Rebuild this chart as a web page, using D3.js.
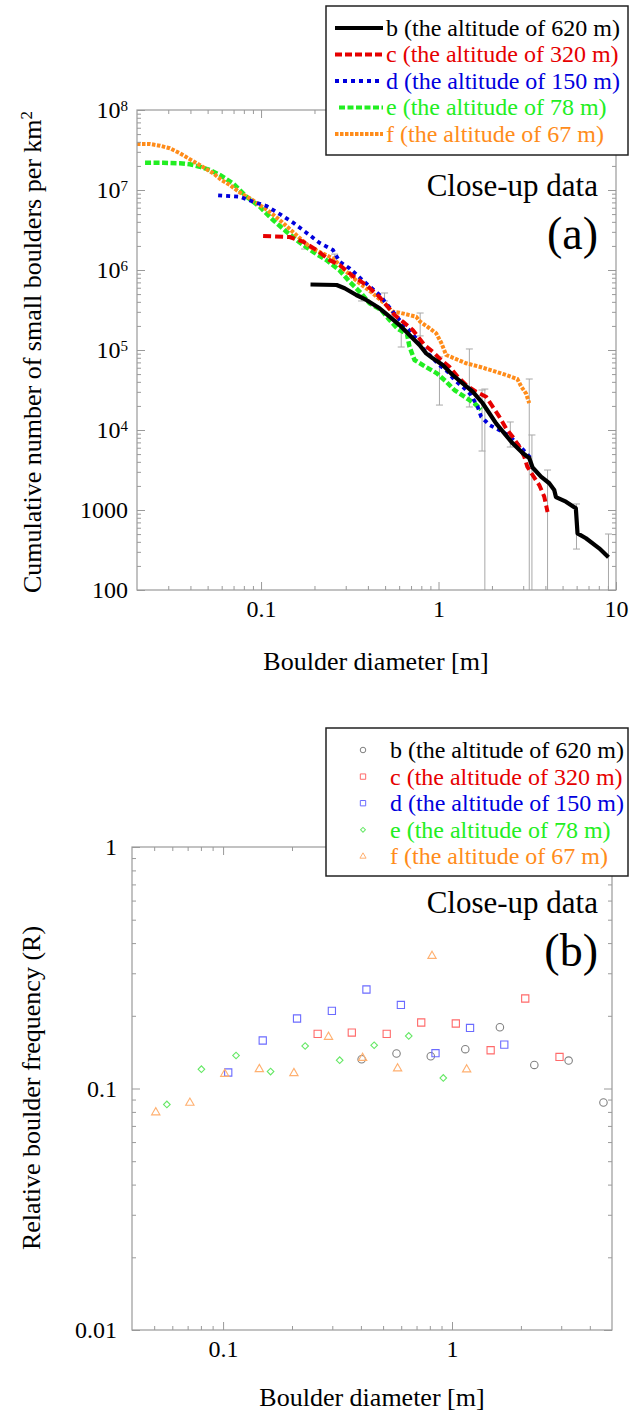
<!DOCTYPE html>
<html><head><meta charset="utf-8">
<script src="https://cdn.jsdelivr.net/npm/d3@7"></script>
<style>
body{margin:0;background:#fff}
svg text, svg tspan{font-family:"Liberation Serif","Tinos","Times New Roman","DejaVu Serif","Noto Serif",serif !important}
</style>
</head><body>
<svg id="chart" width="641" height="1413"></svg>
<script>
// ---------- DATA ----------
const seriesLabels = ["b (the altitude of 620 m)","c (the altitude of 320 m)","d (the altitude of 150 m)","e (the altitude of 78 m)","f (the altitude of 67 m)"];
const seriesColors = ["#000000","#e60000","#0000dd","#22ee22","#ff8c1a"];

// Panel (a): cumulative number per km^2 vs diameter [m]
const cumB = [[0.190,6.59e5],[0.2667,6.49e5],[0.2958,5.91e5],[0.344,4.87e5],[0.3917,4.22e5],[0.4653,3.32e5],[0.53,2.61e5],[0.603,2.05e5],[0.686,1.54e5],[0.781,1.155e5],[0.852,9.09e4],[0.928,7.87e4],[1.056,6.49e4],[1.202,4.87e4],[1.368,3.83e4],[1.557,3.01e4],[1.773,2.16e4],[1.934,1.62e4],[2.11,1.21e4],[2.349,9090],[2.615,6820],[2.977,5160],[3.245,4470],[3.388,3400],[3.778,2610],[4.206,2160],[4.487,1780],[4.587,1450],[5.22,1270],[5.94,1050],[6.07,511],[6.77,443],[8.04,332],[9.07,256]];
const cumC = [[0.1027,2.66e6],[0.145,2.585e6],[0.1723,2.26e6],[0.205,1.78e6],[0.2434,1.33e6],[0.2772,1.155e6],[0.3293,8.41e5],[0.3917,6.49e5],[0.4653,4.6e5],[0.565,2.74e5],[0.629,2.26e5],[0.716,1.78e5],[0.8334,1.155e5],[0.928,9.52e4],[1.034,7.5e4],[1.152,6.18e4],[1.283,4.64e4],[1.43,3.65e4],[1.627,3.01e4],[1.853,2.61e4],[2.018,1.955e4],[2.2,1.467e4],[2.401,1.05e4],[2.615,8250],[2.852,6180],[3.043,4640],[3.163,3480],[3.388,2740],[3.695,2050],[3.942,1470],[4.115,944]];
const cumD = [[0.0573,8.59e6],[0.0759,8.25e6],[0.0902,7.14e6],[0.1073,6.31e6],[0.1274,5.01e6],[0.1514,3.92e6],[0.18,2.93e6],[0.2139,2.18e6],[0.2541,1.78e6],[0.2772,1.27e6],[0.3155,1.05e6],[0.3831,7.08e5],[0.4653,4.87e5],[0.5075,3.83e5],[0.603,2.37e5],[0.671,1.87e5],[0.748,1.4e5],[0.815,1.05e5],[0.909,8.25e4],[1.012,6.49e4],[1.127,5.35e4],[1.229,4.22e4],[1.399,3.32e4],[1.525,2.74e4],[1.662,1.955e4],[1.737,1.467e4],[1.934,1.155e4],[2.2,1.0e4],[2.506,8410],[2.889,6180],[3.318,4430]];
const cumE = [[0.0222,2.19e7],[0.0281,2.19e7],[0.0349,2.16e7],[0.0397,2.1e7],[0.0452,1.955e7],[0.0515,1.78e7],[0.0586,1.54e7],[0.0696,1.21e7],[0.0828,8.25e6],[0.0984,6.18e6],[0.1168,4.22e6],[0.139,3.01e6],[0.1651,2.21e6],[0.1962,1.69e6],[0.2333,1.33e6],[0.2772,9.86e5],[0.3155,7.14e5],[0.367,5.11e5],[0.4089,3.83e5],[0.4757,3.16e5],[0.53,2.37e5],[0.5897,1.83e5],[0.6644,1.585e5],[0.686,1.1e5],[0.7322,7.5e4],[0.8441,6.18e4],[0.9797,5.11e4],[1.104,4.02e4],[1.229,3.16e4],[1.399,2.61e4],[1.592,2.16e4],[1.737,1.8e4]];
const cumF = [[0.02,3.76e7],[0.02366,3.76e7],[0.02694,3.58e7],[0.03066,3.32e7],[0.0349,2.88e7],[0.0389,2.49e7],[0.0434,2.16e7],[0.0483,1.87e7],[0.0537,1.62e7],[0.0599,1.33e7],[0.0667,1.155e7],[0.0759,9.31e6],[0.0864,7.87e6],[0.0984,6.49e6],[0.112,5.31e6],[0.1274,4.22e6],[0.145,3.25e6],[0.1651,2.51e6],[0.1879,1.955e6],[0.2139,1.68e6],[0.2541,1.4e6],[0.3021,9.52e5],[0.359,6.82e5],[0.4266,5.11e5],[0.5075,3.65e5],[0.5506,3.01e5],[0.603,2.93e5],[0.748,2.61e5],[0.788,2.26e5],[0.889,1.87e5],[0.9696,1.62e5],[1.034,1.24e5],[1.104,8.66e4],[1.229,7.87e4],[1.43,6.82e4],[1.699,6.18e4],[2.018,5.51e4],[2.401,4.87e4],[2.779,4.34e4],[2.927,3.48e4],[3.11,2.87e4],[3.245,2.16e4]];
// error bars: [diameter, lower, upper]
const errBars = [[0.176,1.83e6,2.18e6],[0.26,1.30e6,1.58e6],[0.3685,4.1e5,4.87e5],[0.4965,4.1e5,5.16e5],[0.6164,1.09e5,1.73e5],[0.788,1.5e5,2.9e5],[1.012,2.05e4,8.18e4],[1.492,1.94e4,1.03e5],[1.759,5.46e3,3.16e4],[1.824,10,3.25e4],[2.538,6.13e3,1.26e4],[3.245,10,4.34e4],[3.36,10,8.66e3],[4.115,10,3.16e3],[5.99,325,1190],[9.07,10,501]];

// Panel (b): relative boulder frequency R vs diameter [m]
const relB = [[0.4029,0.1322],[0.5723,0.1396],[0.8077,0.136],[1.143,0.1455],[1.619,0.1793],[2.289,0.1252],[3.232,0.1305],[4.588,0.0875]];
const relC = [[0.2589,0.1683],[0.365,0.1705],[0.5185,0.1683],[0.7338,0.1876],[1.039,0.1858],[1.475,0.144],[2.089,0.2358],[2.949,0.1351]];
const relD = [[0.1053,0.1165],[0.149,0.158],[0.2104,0.1949],[0.2987,0.2096],[0.4229,0.257],[0.598,0.2218],[0.847,0.14],[1.199,0.1781],[1.692,0.152]];
const relE = [[0.0568,0.0859],[0.0804,0.1202],[0.1139,0.137],[0.1612,0.1175],[0.2283,0.15],[0.3231,0.131],[0.4571,0.151],[0.6472,0.1651],[0.9162,0.1106]];
const relF = [[0.0508,0.0796],[0.0716,0.0872],[0.1017,0.1149],[0.144,0.1202],[0.2039,0.1157],[0.2887,0.1635],[0.407,0.1338],[0.5786,0.121],[0.818,0.3538],[1.159,0.1199]];

const xTicksTop = [0.1, 1, 10];
const yTicksTop = [1e2, 1e3, 1e4, 1e5, 1e6, 1e7, 1e8];
const xTicksBot = [0.1, 1];
const yTicksBot = [0.01, 0.1, 1];

// ---------- DRAW ----------
const FONT = "'Liberation Serif','Tinos','Times New Roman','DejaVu Serif','Noto Serif',serif";
const svg = d3.select("#chart").attr("font-family", FONT);
svg.append("rect").attr("width",641).attr("height",1413).attr("fill","#fff");
const tickCol = "#9a9a9a";

function minorTicks(lo, hi) {
  const out = [];
  for (let e = Math.floor(Math.log10(lo)); e <= Math.ceil(Math.log10(hi)); e++) {
    for (let m = 2; m <= 9; m++) { const v = m * Math.pow(10, e); if (v > lo * 1.0001 && v < hi * 0.9999) out.push(v); }
  }
  return out;
}
function majorsIn(lo, hi){ const out=[]; for(let e=-4;e<=9;e++){const v=Math.pow(10,e); if(v>=lo*0.9999 && v<=hi*1.0001) out.push(v);} return out; }

function frame(x, y, fontPx, yPad, yFmt, xLabelVals, yLabelVals) {
  const [x0, x1] = x.range(), [y0, y1] = y.range(); // y0 bottom, y1 top
  const xd = x.domain(), yd = y.domain();
  const g = svg.append("g");
  const style = sel => { sel.attr("font-family", FONT); sel.select(".domain").remove(); sel.selectAll("line").attr("stroke", tickCol).attr("stroke-width",1); };
  const xMaj = majorsIn(xd[0], xd[1]), xMin = minorTicks(xd[0], xd[1]);
  const yMaj = majorsIn(yd[0], yd[1]), yMin = minorTicks(yd[0], yd[1]);
  // bottom
  g.append("g").attr("transform",`translate(0,${y0})`).call(d3.axisBottom(x).tickValues(xMin).tickSize(-4).tickSizeOuter(0).tickFormat("")).call(style);
  const bx = g.append("g").attr("transform",`translate(0,${y0})`).call(d3.axisBottom(x).tickValues(xMaj).tickSize(-8).tickSizeOuter(0).tickPadding(10).tickFormat(d => xLabelVals.includes(d) ? d3.format("~g")(d) : "")).call(style);
  bx.selectAll("text").attr("font-size", fontPx).attr("font-family", FONT).attr("fill","#000");
  // top
  g.append("g").attr("transform",`translate(0,${y1})`).call(d3.axisTop(x).tickValues(xMin).tickSize(-4).tickSizeOuter(0).tickFormat("")).call(style);
  g.append("g").attr("transform",`translate(0,${y1})`).call(d3.axisTop(x).tickValues(xMaj).tickSize(-8).tickSizeOuter(0).tickFormat("")).call(style);
  // left
  g.append("g").attr("transform",`translate(${x0},0)`).call(d3.axisLeft(y).tickValues(yMin).tickSize(-4).tickSizeOuter(0).tickFormat("")).call(style);
  const ly = g.append("g").attr("transform",`translate(${x0},0)`).call(d3.axisLeft(y).tickValues(yMaj).tickSize(-8).tickSizeOuter(0).tickPadding(yPad).tickFormat(d => yLabelVals.includes(d) ? "L" : "")).call(style);
  ly.selectAll("text").attr("font-size", fontPx).attr("font-family", FONT).attr("fill","#000").each(function(d){ yFmt(d3.select(this), d); });
  // right
  g.append("g").attr("transform",`translate(${x1},0)`).call(d3.axisRight(y).tickValues(yMin).tickSize(-4).tickSizeOuter(0).tickFormat("")).call(style);
  g.append("g").attr("transform",`translate(${x1},0)`).call(d3.axisRight(y).tickValues(yMaj).tickSize(-8).tickSizeOuter(0).tickFormat("")).call(style);
  g.append("rect").attr("x",x0).attr("y",y1).attr("width",x1-x0).attr("height",y0-y1).attr("fill","none").attr("stroke",tickCol).attr("stroke-width",1.2);
}

// ===== Panel (a) =====
const xA = d3.scaleLog().domain([0.02, 10]).range([137, 616]);
const yA = d3.scaleLog().domain([100, 1e8]).range([590, 110]);

svg.append("clipPath").attr("id","clipA").append("rect").attr("x",137).attr("y",110).attr("width",479).attr("height",480);
const plotA = svg.append("g").attr("clip-path","url(#clipA)");

// error bars
const eb = plotA.append("g").attr("stroke","#a8a8a8").attr("stroke-width",1).attr("fill","none");
errBars.forEach(([d, lo, hi]) => {
  const px = xA(d);
  eb.append("line").attr("x1",px).attr("x2",px).attr("y1",yA(lo)).attr("y2",yA(hi));
  eb.append("line").attr("x1",px-3.5).attr("x2",px+3.5).attr("y1",yA(hi)).attr("y2",yA(hi));
  if (lo > 100) eb.append("line").attr("x1",px-3.5).attr("x2",px+3.5).attr("y1",yA(lo)).attr("y2",yA(lo));
});

const lineGen = d3.line().x(d => xA(d[0])).y(d => yA(d[1]));
const lineSpecs = [
  {data: cumE, color: seriesColors[3], w: 4.5, dash: "6,2.5"},
  {data: cumF, color: seriesColors[4], w: 4, dash: "3.5,1.5"},
  {data: cumD, color: seriesColors[2], w: 3.8, dash: "4,4"},
  {data: cumC, color: seriesColors[1], w: 4, dash: "8,4"},
  {data: cumB, color: seriesColors[0], w: 4.2, dash: null}
];
lineSpecs.forEach(s => {
  const p = plotA.append("path").datum(s.data).attr("d", lineGen).attr("fill","none")
    .attr("stroke", s.color).attr("stroke-width", s.w).attr("stroke-linejoin","round");
  if (s.dash) p.attr("stroke-dasharray", s.dash);
});

frame(xA, yA, 24, 9, (t, d) => {
  if (d >= 1e4) {
    t.text(null);
    t.append("tspan").text("10");
    t.append("tspan").attr("dy","-0.5em").attr("font-size",15).text(String(Math.round(Math.log10(d))));
  } else t.text(d3.format("d")(d));
}, xTicksTop, yTicksTop);

// legend (a)
const legA = svg.append("g");
legA.append("rect").attr("x",326).attr("y",6).attr("width",302).attr("height",149).attr("fill","#fff").attr("stroke","#222").attr("stroke-width",1.5);
const legDash = [null, "7,3", "4,4", "6,2.5", "3.5,1.5"];
seriesLabels.forEach((lab, i) => {
  const yy = 28 + i * 26.5;
  const l = legA.append("line").attr("x1", i===3 ? 339 : 335).attr("x2",383).attr("y1",yy).attr("y2",yy).attr("stroke",seriesColors[i]).attr("stroke-width",4);
  if (legDash[i]) l.attr("stroke-dasharray", legDash[i]);
  legA.append("text").attr("x",386).attr("y",yy).attr("dy","0.33em").attr("font-size",24).attr("font-family",FONT).attr("fill",seriesColors[i]).text(lab);
});

svg.append("text").attr("x",598).attr("y",196).attr("text-anchor","end").attr("font-size",31).text("Close-up data");
svg.append("text").attr("x",598).attr("y",249).attr("text-anchor","end").attr("font-size",46).text("(a)");
svg.append("text").attr("x",376).attr("y",670).attr("text-anchor","middle").attr("font-size",26).text("Boulder diameter [m]");
const ytA = svg.append("text").attr("transform","translate(41,352) rotate(-90)").attr("text-anchor","middle").attr("font-size",26);
ytA.append("tspan").text("Cumulative number of small boulders per km");
ytA.append("tspan").attr("dy","-0.55em").attr("font-size",17).text("2");

// ===== Panel (b) =====
const xB = d3.scaleLog().domain([0.04, 5]).range([132, 612]);
const yB = d3.scaleLog().domain([0.01, 1]).range([1330, 847]);

frame(xB, yB, 24, 15, (t, d) => t.text(d3.format("~g")(d)), xTicksBot, yTicksBot);

const markerSpecs = [
  {data: relB, color: "#808080", type: d3.symbolCircle, size: 44, rot: 0},
  {data: relC, color: "#ff6a6a", type: d3.symbolSquare, size: 52, rot: 0},
  {data: relD, color: "#6b6bff", type: d3.symbolSquare, size: 52, rot: 0},
  {data: relE, color: "#66e866", type: d3.symbolSquare, size: 22, rot: 45},
  {data: relF, color: "#ffb070", type: d3.symbolTriangle, size: 30, rot: 0}
];
const plotB = svg.append("g");
markerSpecs.forEach(s => {
  plotB.selectAll(null).data(s.data).enter().append("path")
    .attr("d", d3.symbol().type(s.type).size(s.size))
    .attr("transform", d => `translate(${xB(d[0])},${yB(d[1])}) rotate(${s.rot})`)
    .attr("fill","none").attr("stroke", s.color).attr("stroke-width",1.1);
});

// legend (b)
const legB = svg.append("g");
legB.append("rect").attr("x",326).attr("y",728).attr("width",302).attr("height",148).attr("fill","#fff").attr("stroke","#222").attr("stroke-width",1.5);
seriesLabels.forEach((lab, i) => {
  const yy = 750 + i * 26.6;
  const s = markerSpecs[i];
  legB.append("path").attr("d", d3.symbol().type(s.type).size(s.size * 0.55))
    .attr("transform", `translate(363,${yy}) rotate(${s.rot})`)
    .attr("fill","none").attr("stroke", s.color).attr("stroke-width",1);
  legB.append("text").attr("x",390).attr("y",yy).attr("dy","0.33em").attr("font-size",24).attr("font-family",FONT).attr("fill",seriesColors[i]).text(lab);
});

svg.append("text").attr("x",598).attr("y",913).attr("text-anchor","end").attr("font-size",31).text("Close-up data");
svg.append("text").attr("x",598).attr("y",966).attr("text-anchor","end").attr("font-size",46).text("(b)");
svg.append("text").attr("x",372).attr("y",1406).attr("text-anchor","middle").attr("font-size",26).text("Boulder diameter [m]");
svg.append("text").attr("transform","translate(40,1088) rotate(-90)").attr("text-anchor","middle").attr("font-size",26).text("Relative boulder frequency (R)");
</script>
</body></html>
